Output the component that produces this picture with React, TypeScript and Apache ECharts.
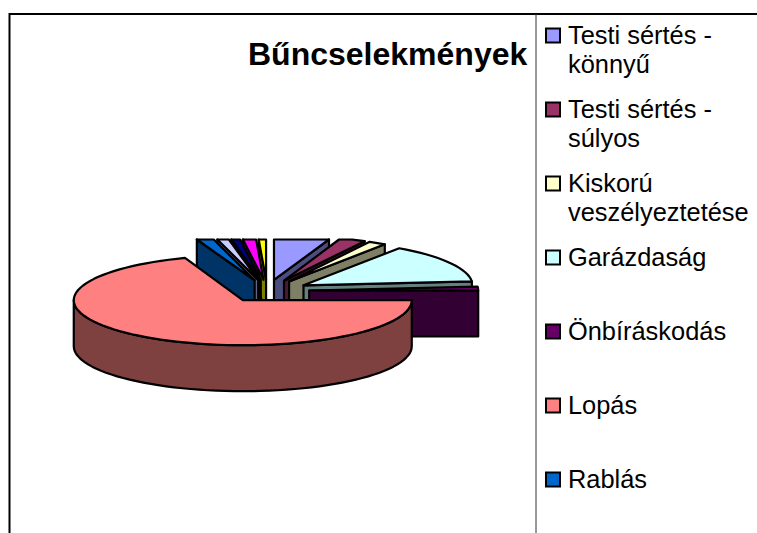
import React, { useEffect, useRef } from "react";
import * as echarts from "echarts";

const chartTitle = "Bűncselekmények";
const sliceNames = [
  "Testi sértés - könnyű", "Testi sértés - súlyos", "Kiskorú veszélyeztetése", "Garázdaság",
  "Önbíráskodás", "Lopás", "Rablás", "Kategória 8", "Kategória 9", "Kategória 10", "Kategória 11",
];
const sliceValues = [19, 9.5, 6, 50.5, 5, 250, 6, 4, 3, 4.5, 2.5];
const sliceColors = [
  "#9999FF", "#993366", "#FFFFCC", "#CCFFFF", "#660066", "#FF8080",
  "#0066CC", "#CCCCFF", "#000080", "#FF00FF", "#FFFF00",
];
const legendLabels = [
  "Testi sértés -\nkönnyű", "Testi sértés -\nsúlyos", "Kiskorú\nveszélyeztetése",
  "Garázdaság", "Önbíráskodás", "Lopás", "Rablás",
];

const CX = 267, CY = 291, RX = 169, RY = 45, DEPTH = 46, EXPLODE = 0.25, TOP_LIMIT = 239.5;
const FONT = "'Liberation Sans', Arial, sans-serif";
const total = sliceValues.reduce((a, b) => a + b, 0);
const rad = (d: number) => (d * Math.PI) / 180;

const darken = (hex: string) => {
  const n = parseInt(hex.slice(1), 16);
  const h = (v: number) => (v >> 1).toString(16).padStart(2, "0");
  return `#${h((n >> 16) & 255)}${h((n >> 8) & 255)}${h(n & 255)}`;
};

const renderItem = (params: any, api: any) => {
  const i = params.dataIndex;
  const value = api.value(0);
  let before = 0;
  for (let k = 0; k < i; k++) before += sliceValues[k];
  const a0 = (before / total) * 360;
  const a1 = a0 + (value / total) * 360;
  const mid = (a0 + a1) / 2;
  const ax = CX + EXPLODE * RX * Math.sin(rad(mid));
  const ay = CY - EXPLODE * RY * Math.cos(rad(mid));
  const pt = (d: number, dz = 0): [number, number] => [
    ax + RX * Math.sin(rad(d)),
    Math.max(ay - RY * Math.cos(rad(d)), TOP_LIMIT) + dz,
  ];
  const arc = (from: number, to: number, dz = 0) => {
    const n = Math.max(2, Math.ceil(Math.abs(to - from) / 3));
    const out: [number, number][] = [];
    for (let k = 0; k <= n; k++) out.push(pt(from + ((to - from) * k) / n, dz));
    return out;
  };
  const side = darken(sliceColors[i]);
  const z2 = Math.round((1 - Math.cos(rad(mid))) * 100);
  const shapeStyle = (fill: string) => ({ fill, stroke: "#000", lineWidth: 2.2, lineJoin: "round" });
  const children: any[] = [];
  const poly = (points: [number, number][], fill: string, z: number) =>
    children.push({ type: "polygon", z2: z2 * 3 + z, shape: { points }, style: shapeStyle(fill) });

  if (Math.sin(rad(a0)) < 0) {
    const e = pt(a0);
    poly([[ax, ay], e, [e[0], e[1] + DEPTH], [ax, ay + DEPTH]], side, 0);
  }
  if (Math.sin(rad(a1)) > 0) {
    const e = pt(a1);
    poly([[ax, ay], e, [e[0], e[1] + DEPTH], [ax, ay + DEPTH]], side, 0);
  }
  const r0 = Math.max(a0, 90), r1 = Math.min(a1, 270);
  if (r1 > r0) {
    poly([...arc(r0, r1), ...arc(r1, r0, DEPTH)], side, 1);
  }
  poly([[ax, ay], ...arc(a0, a1)], sliceColors[i], 2);
  return { type: "group", children };
};

const legendGraphics = legendLabels.flatMap((label, i) => {
  const y = 35.5 + i * 74;
  return [
    {
      type: "rect", shape: { x: 546, y: y - 7, width: 14, height: 14 },
      style: { fill: sliceColors[i], stroke: "#000", lineWidth: 2 },
    },
    {
      type: "text", x: 568, y: y - 15,
      style: { text: label, fill: "#000", font: `25.4px ${FONT}`, lineHeight: 29, textVerticalAlign: "top" },
    },
  ];
});

export default function App() {
  const ref = useRef<HTMLDivElement>(null);
  useEffect(() => {
    const chart = echarts.init(ref.current!, null, { renderer: "svg" });
    chart.setOption({
      animation: false,
      backgroundColor: "#fff",
      title: {
        text: chartTitle, left: 248, top: 38,
        textStyle: { fontFamily: FONT, fontWeight: "bold", fontSize: 32, color: "#000" },
        padding: 0,
      },
      series: [{
        type: "custom",
        coordinateSystem: "none",
        renderItem,
        data: sliceValues.map((v, i) => ({ name: sliceNames[i], value: [v] })),
      }],
      graphic: [
        { type: "line", shape: { x1: 9.5, y1: 14, x2: 757, y2: 14 }, style: { stroke: "#000", lineWidth: 2 } },
        { type: "line", shape: { x1: 9.5, y1: 13, x2: 9.5, y2: 533 }, style: { stroke: "#000", lineWidth: 2 } },
        { type: "line", shape: { x1: 536, y1: 14, x2: 536, y2: 533 }, style: { stroke: "#333", lineWidth: 1 } },
        ...legendGraphics,
      ],
    });
    return () => chart.dispose();
  }, []);
  return <div ref={ref} style={{ position: "absolute", left: 0, top: 0, width: 757, height: 533 }} />;
}
